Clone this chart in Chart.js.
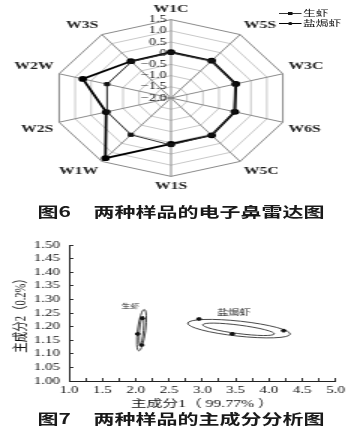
<!DOCTYPE html>
<html>
<head>
<meta charset="utf-8">
<script src="https://cdn.jsdelivr.net/npm/chart.js@4"></script>
<style>
  html, body { margin: 0; padding: 0; background: #fff; }
  /* the source figure is stretched sideways, so the page is laid out narrow and widened */
  #page { position: relative; width: 236px; height: 443px; transform: scaleX(1.5); transform-origin: 0 0; overflow: hidden; }
  canvas { position: absolute; left: 0; display: block; }
  #radar { top: 0; }
  #pca { top: 230px; }
  .legend { position: absolute; left: 186px; top: 8px; font: 8.5px "Liberation Serif", "Noto Sans CJK SC", serif; color: #111; }
  .legend div { height: 10px; line-height: 10px; white-space: nowrap; }
  .swatch { display: inline-block; position: relative; width: 15px; height: 10px; vertical-align: top; margin-right: 1px; }
  .swatch::before { content: ""; position: absolute; left: 0; right: 0; top: 5px; border-top: 1px solid #333; }
  .swatch.thick::before { top: 4.5px; border-top: 1.5px solid #000; }
  .swatch i { position: absolute; left: 6px; top: 4px; width: 3px; height: 3px; background: #111; }
  .swatch.thick i { border-radius: 50%; }
  .caption { position: absolute; left: 25px; font: bold 14px "Noto Sans CJK SC", sans-serif; color: #1a1a1a; white-space: nowrap; line-height: 16px; }
  .caption span + span { margin-left: 15px; }
</style>
</head>
<body>
<div id="page">
  <canvas id="radar" width="236" height="194"></canvas>
  <div class="legend">
    <div><span class="swatch"><i></i></span>生虾</div>
    <div><span class="swatch thick"><i></i></span>盐焗虾</div>
  </div>
  <div class="caption" style="top:203px"><span>图6</span><span>两种样品的电子鼻雷达图</span></div>
  <canvas id="pca" width="236" height="183"></canvas>
  <div class="caption" style="top:410px"><span>图7</span><span>两种样品的主成分分析图</span></div>
</div>
<script>
// e-nose sensors, clockwise from the top
const sensors = ["W1C", "W5S", "W3C", "W6S", "W5C", "W1S", "W1W", "W2S", "W2W", "W3S"];
const rawShrimp = [0.02, 0.05, 0.0, -0.03, 0.05, 0.1, 0.03, 0.0, 0.0, 0.0];
const bakedShrimp = [0.05, 0.06, 0.03, 0.0, 0.06, 0.05, 1.32, 0.03, 0.76, 0.03];

// PCA scores
const rawScores = [
  { x: 2.1, y: 1.23 },
  { x: 2.03, y: 1.173 },
  { x: 2.09, y: 1.132 },
];
const bakedScores = [
  { x: 2.95, y: 1.228 },
  { x: 3.45, y: 1.173 },
  { x: 4.22, y: 1.185 },
];

// ellipses: [major axis end, other major axis end, minor axis end]
const rawEllipses = [
  [[2.129, 1.263], [2.048, 1.111], [2.148, 1.187]],
  [[2.107, 1.239], [2.067, 1.132], [2.117, 1.1855]],
];
const bakedEllipses = [
  [[2.782, 1.213], [4.317, 1.172], [3.5495, 1.22]],
  [[3.007, 1.207], [4.08, 1.173], [3.5435, 1.2055]],
];
const groupNames = ["生虾", "盐焗虾"];
const groupLabelAt = [[1.925, 1.275], [3.475, 1.251]];

const serif = '"Liberation Serif", "Noto Sans CJK SC", serif';

const radarTickText = (v) => (v === 0 ? "0" : v.toFixed(1).replace("-", "\u2212"));

// radial tick labels sit left of the vertical axis
const radarTicks = {
  id: "radarTicks",
  beforeDatasetsDraw(chart) {
    const r = chart.scales.r;
    const ctx = chart.ctx;
    ctx.save();
    ctx.font = "9.5px " + serif;
    ctx.fillStyle = "#111";
    ctx.textAlign = "right";
    ctx.textBaseline = "middle";
    r.ticks.forEach((t) => {
      ctx.fillText(radarTickText(t.value), r.xCenter - 3, r.yCenter - r.getDistanceFromCenterForValue(t.value));
    });
    ctx.restore();
  },
};

new Chart(document.getElementById("radar"), {
  type: "radar",
  data: {
    labels: sensors,
    datasets: [
      {
        label: "生虾",
        data: rawShrimp,
        borderColor: "#333",
        borderWidth: 1,
        pointStyle: "rect",
        pointRadius: 2.2,
        pointBackgroundColor: "#111",
        pointBorderColor: "#111",
        fill: false,
      },
      {
        label: "盐焗虾",
        data: bakedShrimp,
        borderColor: "#000",
        borderWidth: 1.8,
        pointStyle: "circle",
        pointRadius: 2,
        pointBackgroundColor: "#000",
        pointBorderColor: "#000",
        fill: false,
      },
    ],
  },
  options: {
    responsive: false,
    animation: false,
    layout: { padding: { top: 3, right: 10 } },
    plugins: { legend: { display: false }, tooltip: { enabled: false } },
    elements: { line: { tension: 0 } },
    scales: {
      r: {
        min: -2,
        max: 1.5,
        ticks: { stepSize: 0.5, display: false },
        grid: { color: (c) => (c.index === 7 ? "#8a8a8a" : "#c8c8c8"), lineWidth: 1 },
        angleLines: { color: "#8a8a8a", lineWidth: 1 },
        pointLabels: { font: { family: serif, size: 10.5, weight: "bold" }, color: "#222", padding: 4 },
      },
    },
  },
  plugins: [radarTicks],
});

const drawEllipses = {
  id: "ellipses",
  beforeDatasetsDraw(chart) {
    const { ctx } = chart;
    const { x, y } = chart.scales;
    const px = (p) => [x.getPixelForValue(p[0]), y.getPixelForValue(p[1])];
    ctx.save();
    ctx.strokeStyle = "#333";
    ctx.lineWidth = 0.9;
    [...rawEllipses, ...bakedEllipses].forEach(([e1, e2, m]) => {
      const a = px(e1);
      const b = px(e2);
      const q = px(m);
      const cx = (a[0] + b[0]) / 2;
      const cy = (a[1] + b[1]) / 2;
      const rx = Math.hypot(b[0] - a[0], b[1] - a[1]) / 2;
      const ry = Math.hypot(q[0] - cx, q[1] - cy);
      ctx.beginPath();
      ctx.ellipse(cx, cy, rx, ry, Math.atan2(b[1] - a[1], b[0] - a[0]), 0, Math.PI * 2);
      ctx.stroke();
    });
    ctx.fillStyle = "#222";
    ctx.textAlign = "center";
    ctx.textBaseline = "middle";
    groupNames.forEach((name, i) => {
      const p = px(groupLabelAt[i]);
      ctx.font = (i === 0 ? 6 : 7.5) + "px " + serif;
      ctx.fillText(name, p[0], p[1]);
    });
    ctx.restore();
  },
};

const tickFont = { family: serif, size: 10 };
const titleFont = { family: serif, size: 10.5 };

new Chart(document.getElementById("pca"), {
  type: "scatter",
  data: {
    datasets: [
      { label: "生虾", data: rawScores, pointRadius: 1.4, backgroundColor: "#111", borderColor: "#111" },
      { label: "盐焗虾", data: bakedScores, pointRadius: 1.4, backgroundColor: "#111", borderColor: "#111" },
    ],
  },
  options: {
    responsive: false,
    animation: false,
    layout: { padding: { top: 15, right: 9 } },
    plugins: { legend: { display: false }, tooltip: { enabled: false } },
    scales: {
      x: {
        type: "linear",
        min: 1,
        max: 5,
        ticks: {
          stepSize: 0.25,
          autoSkip: false,
          maxRotation: 0,
          padding: 6,
          font: tickFont,
          color: "#111",
          callback: (v) => (Math.abs(v * 2 - Math.round(v * 2)) < 1e-6 ? v.toFixed(1) : ""),
        },
        grid: { drawOnChartArea: false, tickLength: -3, color: "#333" },
        border: { color: "#222", width: 1 },
        title: { display: true, text: "主成分1（ 99.77% ）", font: titleFont, color: "#111", padding: { top: 0, bottom: 2 } },
        afterFit: (s) => { s.height = 32; },
      },
      y: {
        min: 1,
        max: 1.5,
        ticks: { stepSize: 0.05, autoSkip: false, padding: 9, font: tickFont, color: "#111", callback: (v) => v.toFixed(2) },
        grid: { drawOnChartArea: false, tickLength: -3, color: "#333" },
        border: { color: "#222", width: 1 },
        title: { display: true, text: "主成分2（0.2%）", font: titleFont, color: "#111", padding: { top: 8, bottom: 0 } },
        afterFit: (s) => { s.width = 46; },
      },
    },
  },
  plugins: [drawEllipses],
});
</script>
</body>
</html>
